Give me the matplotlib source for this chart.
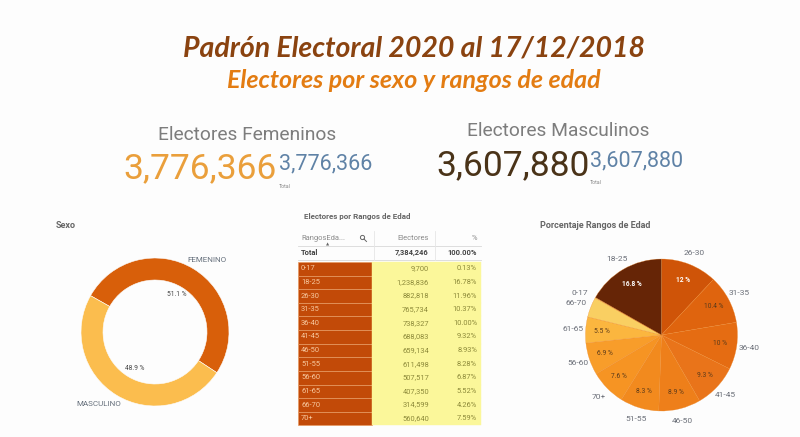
import matplotlib
matplotlib.use("Agg")
import matplotlib.pyplot as plt
from matplotlib.patches import Rectangle, Circle

plt.rcParams['font.family'] = ['Roboto', 'DejaVu Sans']

W, H = 800, 437
BG = '#fdfdfd'

sex_labels = ['FEMENINO', 'MASCULINO']
sex_values = [51.1, 48.9]
sex_colors = ['#d85f0a', '#fbbd4e']

table_ages = ['0-17', '18-25', '26-30', '31-35', '36-40', '41-45', '46-50', '51-55', '56-60', '61-65', '66-70', '70+']
table_voters = ['9,700', '1,238,836', '882,818', '765,734', '738,327', '688,083', '659,134', '611,498', '507,517', '407,350', '314,599', '560,640']
table_pct = ['0.13%', '16.78%', '11.96%', '10.37%', '10.00%', '9.32%', '8.93%', '8.28%', '6.87%', '5.52%', '4.26%', '7.59%']

pie_labels = ['26-30', '31-35', '36-40', '41-45', '46-50', '51-55', '70+', '56-60', '61-65', '66-70', '0-17', '18-25']
pie_values = [11.96, 10.37, 10.00, 9.32, 8.93, 8.28, 7.59, 6.87, 5.52, 4.26, 0.13, 16.78]
pie_colors = ['#cf5408', '#df640e', '#e56c12', '#e9741a', '#ee7f1a', '#f28a1e',
              '#f69423', '#f89d2a', '#fbb63f', '#f9cf62', '#fbe18a', '#662506']

fig = plt.figure(figsize=(W / 100, H / 100), dpi=100, facecolor=BG)
ax = fig.add_axes([0, 0, 1, 1])
ax.set_facecolor(BG)


def Y(py):
    return H - py


def T(x, y, s, size, color, ha='center', va='center', **kw):
    return ax.text(x, Y(y), s, fontsize=size, color=color, ha=ha, va=va, **kw)


# Titles
T(414, 48, 'Padrón Electoral 2020 al 17/12/2018', 20.5, '#8a4310', family='Lato', style='italic', weight='bold')
T(414, 81, 'Electores por sexo y rangos de edad', 18, '#e37c12', family='Lato', style='italic', weight='bold')

# KPIs
T(247, 135, 'Electores Femeninos', 13.8, '#7d7d7d')
T(558, 131, 'Electores Masculinos', 13.8, '#7d7d7d')
T(123, 169, '3,776,366', 25.5, '#ea9f3b', ha='left')
T(279, 164, '3,776,366', 15.5, '#5f82a6', ha='left')
T(279, 186, 'Total', 3.8, '#888888', ha='left')
T(436, 166, '3,607,880', 25.5, '#4a3318', ha='left')
T(590, 161, '3,607,880', 15.5, '#5f82a6', ha='left')
T(590, 183, 'Total', 3.8, '#888888', ha='left')

# Section titles
T(56, 226, 'Sexo', 6.5, '#666666', ha='left', weight='bold')
T(304, 217, 'Electores por Rangos de Edad', 5.8, '#666666', ha='left', weight='bold')
T(540, 226, 'Porcentaje Rangos de Edad', 6.5, '#666666', ha='left', weight='bold')

# Donut
ax.pie(sex_values, colors=sex_colors, startangle=150.6, counterclock=False,
       center=(155, Y(332)), radius=74, wedgeprops=dict(width=22, edgecolor=BG, linewidth=0.4),
       frame=True)
T(207, 260, sex_labels[0], 5.8, '#66707c')
T(99, 404, sex_labels[1], 5.8, '#66707c')
T(177, 295, f'{sex_values[0]} %', 4.8, '#444444')
T(135, 369, f'{sex_values[1]} %', 4.8, '#444444')

# Pie
wedges, texts, autos = ax.pie(
    pie_values, colors=pie_colors, labels=pie_labels, startangle=90, counterclock=False,
    center=(661.5, Y(335)), radius=76, labeldistance=1.16,
    autopct=lambda p: f'{round(p, 1):g} %' if p > 5 else '', pctdistance=0.78,
    wedgeprops=dict(edgecolor='#ee8a2c', linewidth=0.2),
    textprops=dict(fontsize=6, color='#6b6f78'), frame=True)
for t, lab in zip(texts, pie_labels):
    t.set_ha('center')
    t.set_va('center')
    if lab == '0-17':
        t.set_position((580, Y(293)))
    if lab == '66-70':
        t.set_position((576, Y(303)))
for a, lab in zip(autos, pie_labels):
    a.set_fontsize(4.8)
    a.set_color('white' if lab in ('26-30', '18-25') else '#5a3a1a')
    if lab in ('26-30', '18-25'):
        a.set_weight('bold')

# Table
left, split, right = 298, 372, 481
top, row_h = 262, 13.62
T(301, 238, 'RangosEda...', 5.4, '#8a8a8a', ha='left')
ax.add_patch(Circle((362.5, Y(237.5)), 2.1, fc='none', ec='#666666', lw=0.7))
ax.plot([364, 366.5], [Y(239), Y(241.5)], color='#666666', lw=0.7)
T(328, 244, '▲', 3, '#666666', family='DejaVu Sans')
T(429, 238, 'Electores', 5.4, '#8a8a8a', ha='right')
T(477, 238, '%', 5.4, '#8a8a8a', ha='right')
T(301, 253, 'Total', 5.4, '#444444', ha='left', weight='bold')
T(429, 253, '7,384,246', 5.4, '#444444', ha='right', weight='bold')
T(477, 253, '100.00%', 5.4, '#444444', ha='right', weight='bold')
for yy in (246, 260):
    ax.plot([298, 481], [Y(yy), Y(yy)], color='#d8d8d8', lw=0.6)
for xx in (374, 435):
    ax.plot([xx, xx], [Y(231), Y(260)], color='#e6e6e6', lw=0.6)

for i, (age, v, p) in enumerate(zip(table_ages, table_voters, table_pct)):
    y0 = top + i * row_h
    ym = y0 + row_h / 2
    ax.add_patch(Rectangle((left, Y(y0 + row_h)), split - left, row_h, fc='#c24a08', ec='#e79a62', lw=0.5))
    ax.add_patch(Rectangle((split, Y(y0 + row_h)), right - split, row_h, fc='#fbf79a', ec='#fbf79a', lw=0.3))
    T(301, ym, age, 5.4, '#f7c9a0', ha='left')
    T(429, ym, v, 5.4, '#8d8a3a', ha='right')
    T(477, ym, p, 5.4, '#8d8a3a', ha='right')

ax.set_xlim(0, W)
ax.set_ylim(0, H)
ax.set_aspect('auto')
ax.axis('off')
fig.savefig('out.png', dpi=100, facecolor=BG)
